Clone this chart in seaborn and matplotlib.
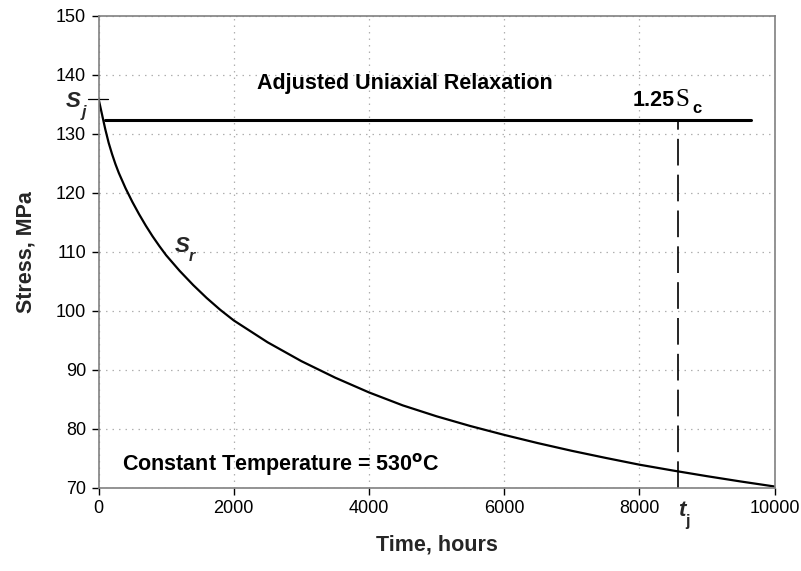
import matplotlib
matplotlib.use("Agg")
import matplotlib.pyplot as plt
import seaborn as sns
import pandas as pd

# ---- data ----
time_hours = [0, 25, 50, 75, 100, 150, 200, 250, 300, 400, 500, 600, 700, 800, 900, 1000,
              1200, 1400, 1600, 1800, 2000, 2500, 3000, 3500, 4000, 4500, 5000, 5500, 6000,
              6500, 7000, 7500, 8000, 8500, 9000, 9500, 10000]
stress_mpa = [136.0, 134.7, 133.4, 132.1, 130.8, 128.5, 126.6, 124.9, 123.4, 120.8, 118.5, 116.4,
              114.45, 112.65, 111.0, 109.45, 106.8, 104.4, 102.2, 100.2, 98.4, 94.7, 91.5, 88.7,
              86.2, 84.0, 82.15, 80.5, 79.0, 77.6, 76.3, 75.1, 73.95, 72.95, 72.0, 71.1, 70.25]
sc_line_x = [100, 9650]
sc_level = 132.3
t_j = 8570
s_j = 136.0
x_ticks = [0, 2000, 4000, 6000, 8000, 10000]
y_ticks = [70, 80, 90, 100, 110, 120, 130, 140, 150]

sns.set_style("white")
plt.rcParams['font.family'] = ['Liberation Sans', 'DejaVu Sans']

fig = plt.figure(figsize=(8.01, 5.71), dpi=100)
ax = fig.add_axes([0.123, 0.1454, 0.844, 0.8266])

df = pd.DataFrame({"Time": time_hours, "Stress": stress_mpa})
sns.lineplot(data=df, x="Time", y="Stress", ax=ax, color="black", lw=1.6)
sns.lineplot(x=sc_line_x, y=[sc_level, sc_level], ax=ax, color="black", lw=2.2)
ax.plot([t_j, t_j], [70, sc_level], color="black", lw=1.2, linestyle=(0, (16, 5.5)))
ax.plot([-155, 140], [s_j, s_j], color="black", lw=0.9, clip_on=False)

ax.set_xlim(0, 10000)
ax.set_ylim(70, 150)
ax.set_xticks(x_ticks)
ax.set_yticks(y_ticks)
ax.grid(True, color="#b0b0b0", lw=0.9, linestyle=(0, (1.2, 4)))
for s in ax.spines.values():
    s.set_visible(True)
    s.set_color("#808080")
    s.set_linewidth(1.2)
ax.tick_params(axis="both", direction="out", length=5, width=1, colors="black",
               labelsize=13, pad=4, left=True, bottom=True)
ax.set_xlabel("Time, hours", fontsize=15.5, fontweight="bold", labelpad=12)
ax.set_ylabel("Stress, MPa", fontsize=15.5, fontweight="bold", labelpad=14)

bold = dict(fontweight="bold", color="black")
ax.text(2350, 138.6, "Adjusted Uniaxial Relaxation", fontsize=15.5, va="center", ha="left", **bold)
ax.text(350, 73.9, "Constant Temperature = 530$^{\\mathbf{o}}$C", fontsize=15.5, va="center", ha="left", **bold)

# 1.25 Sc
ax.text(7900, 135.6, "1.25", fontsize=15.5, va="center", ha="left", **bold)
ax.text(8530, 135.7, "S", fontsize=18, va="center", ha="left", family="Liberation Serif", color="black")
ax.text(8790, 134.3, "c", fontsize=12, va="center", ha="left", **bold)

# S_r
ax.text(1130, 111.0, "S", fontsize=16, fontweight="bold", style="italic", va="center", ha="left")
ax.text(1330, 109.3, "r", fontsize=11.5, fontweight="bold", style="italic", va="center", ha="left")

# S_j (left of axis)
ax.text(-490, 135.5, "S", fontsize=16, fontweight="bold", style="italic", va="center", ha="left",
        clip_on=False)
ax.text(-255, 133.7, "j", fontsize=11.5, fontweight="bold", style="italic", va="center", ha="left",
        clip_on=False)

# t_j below axis
ax.text(t_j + 60, 66.1, "t", fontsize=16, fontweight="bold", style="italic", va="center", ha="center",
        clip_on=False)
ax.text(t_j + 140, 64.4, "j", fontsize=11.5, fontweight="bold", va="center", ha="center",
        clip_on=False)

fig.savefig("out.png", dpi=100)
